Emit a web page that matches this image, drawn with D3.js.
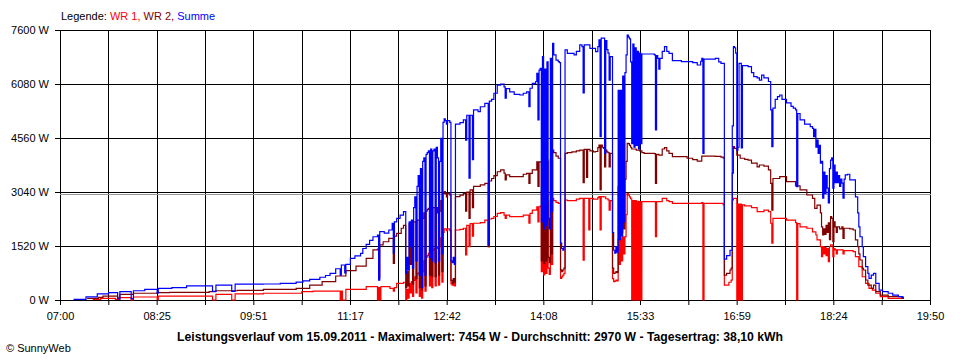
<!DOCTYPE html>
<html>
<head>
<meta charset="utf-8">
<script src="https://cdn.jsdelivr.net/npm/d3@7"></script>
<style>
  body { margin: 0; background: #fff; }
  svg { display: block; font-family: "Liberation Sans", Arial, sans-serif; }
</style>
</head>
<body>
<div id="chart"></div>
<script>
// axis + labels
const yTicks = [0, 1520, 3040, 4560, 6080, 7600];
const xLabels = ["07:00", "08:25", "09:51", "11:17", "12:42", "14:08", "15:33", "16:59", "18:24", "19:50"];
const seriesNames = ["WR 1", "WR 2", "Summe"];
const average = 2970;
const title = "Leistungsverlauf vom 15.09.2011 - Maximalwert: 7454 W - Durchschnitt: 2970 W - Tagesertrag: 38,10 kWh";

// readings [time, watt]
const wr1 = [
  ["07:29", 20], ["07:36", 45], ["07:49", 15], ["07:53", 65], ["08:03", 5], ["08:05", 85], ["08:26", 10], ["08:27", 110],
  ["09:15", 0], ["09:18", 160], ["09:32", 0], ["09:35", 170], ["10:00", 190], ["10:34", 235], ["10:44", 250],
  ["11:08", 0], ["11:09", 250], ["11:10", 0], ["11:12", 0], ["11:13", 300], ["11:31", 375], ["11:41", 0], ["11:42", 350],
  ["11:43", 0], ["11:44", 375], ["11:52", 330], ["11:55", 250], ["11:56", 350], ["11:58", 470], ["12:04", 500],
  ["12:06", 0], ["12:07", 300], ["12:08", 50], ["12:09", 470], ["12:10", 200], ["12:11", 520], ["12:12", 100], ["12:13", 550],
  ["12:14", 650], ["12:15", 200], ["12:16", 750], ["12:17", 760], ["12:18", 100], ["12:19", 780], ["12:20", 50], ["12:21", 800],
  ["12:22", 1100], ["12:23", 250], ["12:24", 1200], ["12:25", 1250], ["12:26", 1315], ["12:27", 400], ["12:28", 1350],
  ["12:29", 350], ["12:30", 1400], ["12:31", 1450], ["12:32", 400], ["12:33", 1500], ["12:34", 1450], ["12:35", 420],
  ["12:36", 1500], ["12:37", 1750], ["12:38", 500], ["12:39", 1900], ["12:40", 2000], ["12:42", 1950], ["12:43", 2000],
  ["12:45", 1950], ["12:46", 450], ["12:47", 420], ["12:48", 500], ["12:49", 400], ["12:50", 1970], ["12:54", 1990],
  ["12:57", 2020], ["12:59", 1270], ["13:00", 2100], ["13:02", 1500], ["13:03", 2150], ["13:05", 1800], ["13:06", 2160],
  ["13:12", 2180], ["13:16", 2250], ["13:19", 1500], ["13:20", 2280], ["13:22", 2300], ["13:24", 2350], ["13:27", 2440],
  ["13:30", 2460], ["13:33", 2390], ["13:34", 2300], ["13:35", 2390], ["13:38", 2345], ["13:50", 2390], ["13:55", 2160],
  ["13:56", 2440], ["13:58", 2530], ["14:02", 2625], ["14:03", 2200], ["14:04", 2625], ["14:05", 2640],
  ["14:06", 800], ["14:07", 2800], ["14:08", 705], ["14:09", 2700], ["14:10", 750], ["14:11", 2750], ["14:12", 900],
  ["14:13", 720], ["14:14", 2800], ["14:15", 1000], ["14:16", 2860], ["14:17", 2800], ["14:19", 2750], ["14:21", 2720],
  ["14:23", 610], ["14:24", 650], ["14:25", 700], ["14:26", 750], ["14:27", 2815], ["14:29", 2800], ["14:37", 2840],
  ["14:40", 2860], ["14:43", 1125], ["14:44", 2860], ["14:48", 1970], ["14:49", 2860], ["14:52", 2840], ["14:56", 2880],
  ["14:57", 2910], ["14:58", 1970], ["14:59", 2910], ["15:01", 2900], ["15:03", 2850], ["15:05", 2820], ["15:06", 2530],
  ["15:07", 2800], ["15:09", 600], ["15:10", 515], ["15:11", 530], ["15:12", 560], ["15:13", 540], ["15:14", 1700],
  ["15:15", 1000], ["15:16", 1750], ["15:17", 1100], ["15:18", 1780], ["15:19", 1300], ["15:20", 1780], ["15:21", 2400],
  ["15:22", 3000], ["15:23", 2950], ["15:24", 2900], ["15:25", 2850], ["15:26", 0], ["15:27", 2800], ["15:28", 0],
  ["15:29", 2800], ["15:30", 0], ["15:31", 2780], ["15:32", 0], ["15:33", 2770], ["15:34", 0], ["15:35", 2770],
  ["15:47", 1780], ["15:48", 2770], ["15:53", 2860], ["15:57", 2800], ["15:59", 2770], ["16:02", 2720], ["16:28", 2740],
  ["16:29", 0], ["16:30", 2720], ["16:47", 2675], ["16:48", 420], ["16:52", 500], ["16:54", 560], ["16:55", 2815],
  ["16:56", 2860], ["16:59", 0], ["17:00", 2700], ["17:01", 0], ["17:02", 2700], ["17:03", 0], ["17:04", 2680],
  ["17:06", 2650], ["17:12", 2600], ["17:17", 2490], ["17:23", 2530], ["17:27", 2490], ["17:29", 2160], ["17:30", 1600],
  ["17:31", 2300], ["17:43", 2250], ["17:51", 2180], ["17:52", 0], ["17:53", 2150], ["17:55", 2060], ["18:01", 2020],
  ["18:06", 1920], ["18:09", 1830], ["18:10", 1690], ["18:13", 1500], ["18:14", 1220], ["18:15", 1500], ["18:16", 1300],
  ["18:17", 1480], ["18:18", 1250], ["18:19", 1450], ["18:20", 1080], ["18:21", 1500], ["18:22", 1550], ["18:24", 1220],
  ["18:25", 1450], ["18:26", 1410], ["18:27", 1300], ["18:28", 1410], ["18:33", 1300], ["18:34", 1390], ["18:42", 1360],
  ["18:44", 1220], ["18:47", 940], ["18:50", 655], ["18:53", 470], ["18:56", 330], ["18:59", 280], ["19:02", 190],
  ["19:06", 95], ["19:13", 45], ["19:27", 45]
];

const wr2 = [
  ["07:24", 45], ["07:34", 75], ["07:38", 110], ["07:51", 60], ["07:53", 160], ["08:05", 190], ["08:26", 205], ["08:37", 215],
  ["09:12", 235], ["09:18", 260], ["09:37", 270], ["10:00", 300], ["10:29", 330], ["10:41", 420], ["10:52", 515],
  ["11:04", 675], ["11:13", 825], ["11:22", 955], ["11:31", 1170], ["11:37", 1410], ["11:41", 1435], ["11:42", 620],
  ["11:43", 1550], ["11:46", 1640], ["11:51", 1735], ["11:55", 1030], ["11:56", 1800], ["11:58", 1875], ["12:02", 2020],
  ["12:04", 2100], ["12:06", 350], ["12:07", 800], ["12:08", 400], ["12:09", 2150], ["12:10", 1000], ["12:11", 2200],
  ["12:12", 450], ["12:13", 2200], ["12:15", 600], ["12:16", 2250], ["12:18", 350], ["12:19", 2250], ["12:20", 280],
  ["12:21", 2300], ["12:22", 2450], ["12:23", 400], ["12:24", 2500], ["12:25", 2550], ["12:26", 2580], ["12:27", 700],
  ["12:28", 2580], ["12:29", 655], ["12:30", 2600], ["12:32", 655], ["12:33", 2600], ["12:34", 2450], ["12:35", 700],
  ["12:36", 2500], ["12:37", 2800], ["12:38", 800], ["12:39", 3000], ["12:40", 3050], ["12:41", 3000], ["12:42", 2900],
  ["12:43", 3000], ["12:45", 2950], ["12:46", 550], ["12:47", 470], ["12:48", 600], ["12:49", 500], ["12:50", 2910],
  ["12:54", 2950], ["12:57", 3000], ["12:59", 2500], ["13:00", 3040], ["13:02", 2300], ["13:03", 3100], ["13:05", 2600],
  ["13:06", 3200], ["13:12", 3240], ["13:16", 3280], ["13:19", 1500], ["13:20", 3350], ["13:22", 3420], ["13:24", 3500],
  ["13:27", 3610], ["13:30", 3660], ["13:33", 3570], ["13:34", 3380], ["13:35", 3520], ["13:38", 3470], ["13:50", 3540],
  ["13:53", 3565], ["13:55", 3280], ["13:56", 3565], ["13:58", 3660], ["14:02", 3890], ["14:03", 3200], ["14:04", 3890],
  ["14:06", 1100], ["14:07", 4000], ["14:08", 1030], ["14:09", 3800], ["14:10", 1100], ["14:11", 3900], ["14:12", 1200],
  ["14:13", 1050], ["14:14", 3950], ["14:15", 1300], ["14:16", 4220], ["14:17", 4150], ["14:19", 4050], ["14:21", 3990],
  ["14:23", 850], ["14:24", 800], ["14:25", 845], ["14:26", 900], ["14:27", 4130], ["14:29", 4150], ["14:33", 4170],
  ["14:37", 4200], ["14:40", 4220], ["14:43", 3300], ["14:44", 4240], ["14:46", 3450], ["14:47", 4240], ["14:49", 4200],
  ["14:52", 4170], ["14:54", 4180], ["14:56", 4290], ["14:57", 4360], ["14:58", 3100], ["14:59", 4360], ["15:00", 4300],
  ["15:01", 4270], ["15:02", 3750], ["15:03", 4220], ["15:04", 4170], ["15:05", 4150], ["15:06", 3750], ["15:07", 4130],
  ["15:09", 900], ["15:10", 750], ["15:11", 760], ["15:12", 800], ["15:13", 780], ["15:14", 3200], ["15:15", 1800],
  ["15:16", 3100], ["15:17", 1900], ["15:18", 3300], ["15:19", 2000], ["15:20", 3400], ["15:21", 3900], ["15:22", 4410],
  ["15:23", 4400], ["15:24", 4350], ["15:25", 4300], ["15:26", 4250], ["15:30", 4220], ["15:33", 4200], ["15:35", 4150],
  ["15:37", 4130], ["15:46", 4120], ["15:47", 3280], ["15:48", 4100], ["15:50", 4080], ["15:53", 4250], ["15:55", 4290],
  ["15:57", 4200], ["15:59", 4130], ["16:02", 4035], ["16:15", 3990], ["16:20", 3950], ["16:24", 3910], ["16:28", 4050],
  ["16:40", 4040], ["16:45", 4020], ["16:47", 3990], ["16:48", 700], ["16:50", 750], ["16:53", 845], ["16:54", 900],
  ["16:55", 3570], ["16:56", 4320], ["16:57", 4270], ["16:59", 4080], ["17:02", 3990], ["17:06", 3960], ["17:09", 3940],
  ["17:12", 3850], ["17:17", 3750], ["17:19", 3800], ["17:23", 3770], ["17:27", 3660], ["17:29", 3280], ["17:30", 2530],
  ["17:31", 3420], ["17:37", 3470], ["17:43", 3330], ["17:51", 3210], ["17:55", 3100], ["18:01", 2955], ["18:06", 2860],
  ["18:08", 2580], ["18:10", 2670], ["18:13", 2450], ["18:14", 2060], ["18:15", 1830], ["18:16", 2000], ["18:17", 1850],
  ["18:18", 2100], ["18:19", 1900], ["18:20", 2170], ["18:21", 1700], ["18:22", 2345], ["18:23", 2300], ["18:24", 1640],
  ["18:25", 2200], ["18:26", 2060], ["18:27", 1900], ["18:28", 2060], ["18:30", 2000], ["18:32", 2060], ["18:33", 1735],
  ["18:34", 2020], ["18:39", 2000], ["18:42", 1970], ["18:44", 1690], ["18:46", 1500], ["18:47", 1300], ["18:48", 1126],
  ["18:50", 900], ["18:51", 845], ["18:53", 563], ["18:55", 420], ["18:58", 330], ["19:00", 420], ["19:02", 235],
  ["19:06", 140], ["19:13", 95], ["19:25", 45], ["19:27", 45]
];

const summe = [
  ["07:12", 15], ["07:23", 90], ["07:33", 170], ["07:43", 205], ["07:51", 30], ["07:53", 235], ["08:03", 40], ["08:05", 260],
  ["08:15", 300], ["08:26", 190], ["08:27", 330], ["08:39", 350], ["08:52", 395], ["09:15", 240], ["09:18", 420],
  ["09:32", 240], ["09:35", 445], ["10:00", 450], ["10:15", 470], ["10:29", 505], ["10:35", 540], ["10:41", 580],
  ["10:50", 640], ["10:55", 690], ["10:59", 750], ["11:04", 880], ["11:08", 700], ["11:09", 985], ["11:12", 760],
  ["11:13", 1000], ["11:17", 1170], ["11:21", 1240], ["11:26", 1315], ["11:28", 1450], ["11:31", 1565], ["11:34", 1680],
  ["11:37", 1780], ["11:41", 1830], ["11:42", 560], ["11:43", 1925], ["11:47", 1885], ["11:51", 1970], ["11:54", 2160],
  ["11:55", 1320], ["11:56", 2200], ["11:58", 2300], ["12:01", 2390], ["12:04", 2485],
  ["12:06", 750], ["12:07", 1200], ["12:08", 850], ["12:09", 2200], ["12:10", 1500], ["12:11", 2250], ["12:12", 900],
  ["12:13", 2600], ["12:14", 2900], ["12:15", 1100], ["12:16", 3200], ["12:17", 3500], ["12:18", 700], ["12:19", 3700],
  ["12:20", 350], ["12:21", 3900], ["12:22", 4000], ["12:23", 700], ["12:24", 4100], ["12:25", 4150], ["12:26", 4200],
  ["12:27", 1200], ["12:28", 4250], ["12:29", 1100], ["12:30", 4200], ["12:31", 4250], ["12:32", 1050], ["12:33", 4300],
  ["12:34", 4000], ["12:35", 1100], ["12:36", 3900], ["12:37", 4550], ["12:38", 1300], ["12:39", 5000], ["12:40", 5100],
  ["12:41", 5050], ["12:42", 4950], ["12:43", 5050], ["12:45", 5000], ["12:46", 1100], ["12:47", 1050], ["12:48", 1200],
  ["12:49", 1000], ["12:50", 4950], ["12:54", 4990], ["12:57", 5070], ["12:59", 4500], ["13:00", 5200], ["13:02", 3430],
  ["13:03", 5200], ["13:05", 3950], ["13:06", 5350], ["13:10", 5300], ["13:12", 5440], ["13:16", 5535], ["13:19", 1550],
  ["13:20", 5600], ["13:22", 5650], ["13:24", 5820], ["13:27", 6050], ["13:30", 6080], ["13:33", 6000], ["13:34", 5680],
  ["13:35", 5950], ["13:38", 5860], ["13:42", 5790], ["13:47", 5770], ["13:50", 5820], ["13:53", 5860], ["13:55", 5440],
  ["13:56", 5960], ["13:58", 6100], ["14:01", 6150], ["14:02", 6380], ["14:03", 5070], ["14:04", 6470], ["14:05", 6520],
  ["14:06", 2200], ["14:07", 6850], ["14:08", 2000], ["14:09", 6500], ["14:10", 2100], ["14:11", 6700], ["14:12", 2300],
  ["14:13", 2000], ["14:14", 6800], ["14:15", 2500], ["14:16", 7225], ["14:17", 6900], ["14:19", 6750], ["14:21", 6710],
  ["14:22", 6680], ["14:23", 1600], ["14:24", 1450], ["14:25", 1400], ["14:26", 1500], ["14:27", 7040], ["14:29", 6940],
  ["14:35", 6900], ["14:37", 7000], ["14:40", 7180], ["14:42", 7130], ["14:43", 5830], ["14:44", 7180], ["14:49", 7080],
  ["14:54", 6990], ["14:56", 7130], ["14:57", 7320], ["14:58", 4600], ["14:59", 7370], ["15:02", 4130], ["15:03", 7300],
  ["15:04", 7050], ["15:05", 6950], ["15:06", 6190], ["15:07", 6850], ["15:09", 1900], ["15:10", 1400], ["15:11", 1320],
  ["15:12", 1500], ["15:13", 1350], ["15:14", 5900], ["15:15", 1700], ["15:16", 5900], ["15:17", 1800], ["15:18", 6300],
  ["15:19", 2200], ["15:20", 6400], ["15:21", 6900], ["15:22", 7454], ["15:23", 7400], ["15:24", 7350], ["15:25", 6700],
  ["15:26", 4400], ["15:27", 7200], ["15:28", 4300], ["15:29", 7100], ["15:30", 4350], ["15:31", 7000], ["15:32", 4250],
  ["15:33", 6950], ["15:34", 4400], ["15:35", 6925], ["15:46", 6900], ["15:47", 4790], ["15:48", 6880], ["15:49", 6800],
  ["15:50", 6500], ["15:51", 6800], ["15:53", 7000], ["15:55", 7130], ["15:57", 7000], ["15:59", 6940], ["16:02", 6740],
  ["16:10", 6710], ["16:20", 6680], ["16:24", 6615], ["16:27", 6720], ["16:28", 6800], ["16:29", 4130], ["16:30", 6780],
  ["16:40", 6800], ["16:43", 6700], ["16:45", 6660], ["16:48", 1150], ["16:50", 1250], ["16:53", 1400], ["16:55", 4900],
  ["16:56", 7130], ["16:57", 7100], ["16:58", 6950], ["16:59", 4220], ["17:00", 4300], ["17:01", 6660], ["17:03", 4280],
  ["17:04", 6600], ["17:09", 6570], ["17:12", 6400], ["17:14", 6290], ["17:17", 6250], ["17:19", 6190], ["17:21", 6330],
  ["17:23", 6250], ["17:27", 6150], ["17:29", 5350], ["17:30", 4320], ["17:31", 5400], ["17:33", 5650], ["17:35", 5725],
  ["17:37", 5770], ["17:39", 5650], ["17:43", 5550], ["17:47", 5450], ["17:49", 5400], ["17:51", 5350], ["17:52", 3190],
  ["17:53", 5250], ["17:55", 5070], ["17:59", 4950], ["18:04", 4880], ["18:06", 4830], ["18:07", 4600], ["18:08", 4800],
  ["18:09", 4300], ["18:10", 4500], ["18:11", 4130], ["18:12", 4350], ["18:13", 3850], ["18:14", 3900], ["18:15", 2870],
  ["18:16", 3600], ["18:17", 3000], ["18:18", 3500], ["18:19", 3150], ["18:20", 2730], ["18:21", 3700], ["18:22", 3940],
  ["18:23", 4000], ["18:24", 3150], ["18:25", 3800], ["18:26", 3300], ["18:27", 3600], ["18:28", 3300], ["18:29", 3500],
  ["18:30", 3200], ["18:31", 3400], ["18:32", 3290], ["18:33", 2870], ["18:34", 3400], ["18:35", 3520], ["18:37", 3540],
  ["18:39", 3380], ["18:44", 2900], ["18:46", 2450], ["18:47", 2060], ["18:48", 1780], ["18:50", 1500], ["18:51", 1220],
  ["18:53", 940], ["18:55", 750], ["18:56", 610], ["18:58", 700], ["19:00", 750], ["19:02", 470], ["19:05", 280],
  ["19:08", 235], ["19:13", 190], ["19:17", 140], ["19:22", 95], ["19:26", 65], ["19:27", 65]
];

const colors = { "WR 1": "#ff0000", "WR 2": "#800000", "Summe": "#0000ff" };
const seriesData = { "WR 1": wr1, "WR 2": wr2, "Summe": summe };

const parseTime = d3.timeParse("%H:%M");

const svg = d3.select("#chart")
  .append("svg")
  .attr("width", 960)
  .attr("height", 360);

const x = d3.scaleTime()
  .domain([parseTime("07:00"), parseTime("19:50")])
  .range([60, 930]);

const y = d3.scaleLinear()
  .domain([0, 7600])
  .range([300, 30]);

// 18 equal steps, every second one labelled
const [t0, t1] = x.domain();
const gridTimes = d3.range(19).map(i => new Date(+t0 + (t1 - t0) * i / 18));

// grid
svg.append("g")
  .selectAll("line")
  .data(gridTimes)
  .join("line")
  .attr("x1", d => Math.round(x(d)) + 0.5)
  .attr("x2", d => Math.round(x(d)) + 0.5)
  .attr("y1", y(7600))
  .attr("y2", y(0))
  .attr("stroke", "#000");

svg.append("g")
  .selectAll("line")
  .data(yTicks)
  .join("line")
  .attr("x1", x.range()[0])
  .attr("x2", x.range()[1] + 1)
  .attr("y1", d => Math.round(y(d)) + 0.5)
  .attr("y2", d => Math.round(y(d)) + 0.5)
  .attr("stroke", "#000");

// average line
svg.append("line")
  .attr("x1", x.range()[0])
  .attr("x2", x.range()[1] + 1)
  .attr("y1", Math.round(y(average)) + 0.5)
  .attr("y2", Math.round(y(average)) + 0.5)
  .attr("stroke", "#999");

// axes
svg.append("g")
  .attr("transform", `translate(0,${y(0)})`)
  .call(d3.axisBottom(x)
    .tickValues(gridTimes)
    .tickSize(5)
    .tickPadding(7)
    .tickFormat((d, i) => i % 2 ? "" : xLabels[i / 2]));

svg.append("g")
  .attr("transform", `translate(${x.range()[0]},0)`)
  .call(d3.axisLeft(y)
    .tickValues(yTicks)
    .tickSize(5)
    .tickPadding(6)
    .tickFormat(d => d + " W"));

svg.selectAll(".domain").remove();
svg.selectAll(".tick line").attr("stroke", "#000");
svg.selectAll(".tick text")
  .attr("fill", "#000")
  .style("font-size", "11px")
  .style("font-family", "'Liberation Sans', Arial, sans-serif");

// series
const line = d3.line()
  .x(d => x(parseTime(d[0])))
  .y(d => y(d[1]))
  .curve(d3.curveStepAfter);

svg.append("g")
  .selectAll("path")
  .data(seriesNames)
  .join("path")
  .attr("fill", "none")
  .attr("stroke", d => colors[d])
  .attr("stroke-width", 1.2)
  .attr("d", d => line(seriesData[d]));

// legend
const legend = svg.append("text")
  .attr("x", 61)
  .attr("y", 20)
  .style("font-size", "11px");

legend.append("tspan").attr("fill", "#000").text("Legende: ");
seriesNames.forEach((name, i) => {
  legend.append("tspan")
    .attr("fill", colors[name])
    .text(name + (i < seriesNames.length - 1 ? ", " : ""));
});

// footer
svg.append("text")
  .attr("x", 480)
  .attr("y", 341)
  .attr("text-anchor", "middle")
  .attr("textLength", 606)
  .attr("lengthAdjust", "spacingAndGlyphs")
  .style("font-size", "13px")
  .style("font-weight", "bold")
  .text(title);

svg.append("text")
  .attr("x", 6)
  .attr("y", 352)
  .style("font-size", "11px")
  .text("\u00a9 SunnyWeb");
</script>
</body>
</html>
